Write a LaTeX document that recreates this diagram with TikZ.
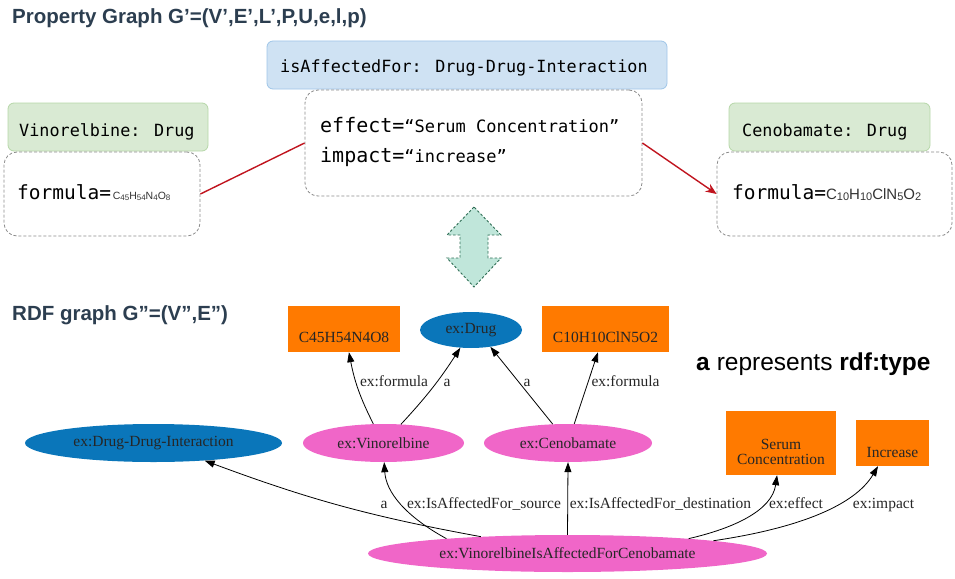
\documentclass[tikz,border=0pt]{standalone}
\usepackage{fontspec}
\setmainfont{Liberation Serif}
\newfontfamily\arialf{Liberation Sans}
\newfontfamily\monof{DejaVu Sans Mono}
\usetikzlibrary{shapes.geometric,arrows.meta}
\definecolor{titlec}{HTML}{2C3E50}
\definecolor{bluefill}{HTML}{CFE2F3}
\definecolor{blueline}{HTML}{9FC5E8}
\definecolor{greenfill}{HTML}{D9EAD3}
\definecolor{greenline}{HTML}{B6D7A8}
\definecolor{dashgray}{HTML}{8A8A8A}
\definecolor{redline}{HTML}{C0141E}
\definecolor{mintfill}{HTML}{C0E6DA}
\definecolor{mintline}{HTML}{2F6E55}
\definecolor{rdforange}{HTML}{FF7A00}
\definecolor{rdfblue}{HTML}{0A76BA}
\definecolor{rdfpink}{HTML}{F066C8}
\newcommand\fsz[1]{\fontsize{#1}{#1}\selectfont}
\newcommand\subd[2]{\raisebox{-0.8pt}{\fontsize{#1}{#1}\selectfont #2}}
\tikzset{
  pgtxt/.style={inner sep=0, anchor=base west, font=\monof\fsz{16.8}},
  bluebox/.style={draw=blueline, fill=bluefill, rounded corners=6pt, line width=0.8pt, minimum width=400pt, minimum height=48pt, inner sep=0},
  greenbox/.style={draw=greenline, fill=greenfill, rounded corners=6pt, line width=0.8pt, minimum height=48pt, inner sep=0},
  dashbox/.style={draw=dashgray, dash pattern=on 3pt off 2pt, line width=0.8pt, rounded corners=13pt, inner sep=0},
  pgedge/.style={draw=redline, line width=1.4pt},
  ovalnode/.style={ellipse, inner sep=0, font=\fsz{15.5}, text=black!85},
  boxnode/.style={rectangle, fill=rdforange, inner sep=0},
  boxtxt/.style={font=\fsz{15.5}, text=black!85, align=center, inner sep=0},
  elabel/.style={inner sep=0, anchor=base, font=\fsz{15.5}, text=black!85},
  rdfedge/.style={draw=black, line width=0.8pt, -{Triangle[length=10pt,width=7pt]}},
  titletxt/.style={inner sep=0, anchor=base west, text=titlec, font=\arialf\bfseries\fsz{20.5}}
}
\begin{document}
\begin{tikzpicture}[x=1pt,y=-1pt]
\useasboundingbox (0,0) rectangle (955,578);
% ---------- Property graph ----------
\node[titletxt] (t1) at (12,24) {Property Graph G’=(V’,E’,L’,P,U,e,l,p)};

\node[bluebox] (eb) at (467,65) {};
\node[pgtxt] (ebT) at (280,72.5) {isAffectedFor: Drug-Drug-Interaction};
\node[dashbox, minimum width=337pt, minimum height=106pt] (ep) at (473.5,143) {};
\node[inner sep=0, anchor=base west] (epA) at (320,132) {{\monof\fsz{20}effect=}{\monof\fsz{17}“Serum Concentration”}};
\node[inner sep=0, anchor=base west] (epB) at (320,162) {{\monof\fsz{20}impact=}{\monof\fsz{17}“increase”}};

\node[greenbox, minimum width=200pt] (vb) at (108,127) {};
\node[pgtxt] (vbT) at (19,136) {Vinorelbine: Drug};
\node[dashbox, minimum width=196pt, minimum height=84pt] (vp) at (102,194) {};
\node[inner sep=0, anchor=base west] (vpT) at (17,199.5) {{\monof\fsz{19.5}formula=}\,{\arialf\color{black!80}\fsz{10.5}C\subd{8}{45}H\subd{8}{54}N\subd{8}{4}O\subd{8}{8}}};

\node[greenbox, minimum width=201pt] (cb) at (829.5,127) {};
\node[pgtxt] (cbT) at (742,136) {Cenobamate: Drug};
\node[dashbox, minimum width=235pt, minimum height=84pt] (cp) at (834.5,194) {};
\node[inner sep=0, anchor=base west] (cpT) at (732,199.5) {{\monof\fsz{19.5}formula=}{\arialf\color{black!80}\fsz{15}C\subd{11}{10}H\subd{11}{10}ClN\subd{11}{5}O\subd{11}{2}}};

\draw[pgedge] (vp.east) -- (ep.west);
\draw[pgedge, -{Stealth[length=11pt,width=9pt]}] (ep.east) -- (cp.west);

% double arrow
\draw[fill=mintfill, draw=mintline, dash pattern=on 2.5pt off 2pt, line width=0.9pt]
  (474,207) -- (447,235) -- (460,235) -- (460,258) -- (447,258) -- (474,287)
  -- (501,258) -- (488,258) -- (488,235) -- (501,235) -- cycle;

% ---------- RDF graph ----------
\node[titletxt] (t2) at (12,320) {RDF graph G”=(V”,E”)};
\node[inner sep=0, anchor=base west, font=\arialf\fsz{24.5}] (leg) at (696,370) {\textbf{a} represents \textbf{rdf:type}};

\node[boxnode, minimum width=112pt, minimum height=46pt, label={[boxtxt, yshift=-8pt]center:C45H54N4O8}] (c45) at (344,329) {};
\node[ovalnode, fill=rdfblue, minimum width=102pt, minimum height=36pt] (drug) at (471,330) {ex:Drug};
\node[boxnode, minimum width=127pt, minimum height=46pt, label={[boxtxt, yshift=-8pt]center:C10H10ClN5O2}] (c10) at (605.5,329) {};

\node[ovalnode, fill=rdfblue, minimum width=257pt, minimum height=38pt] (ddi) at (153.5,443) {ex:Drug-Drug-Interaction};
\node[ovalnode, fill=rdfpink, minimum width=161pt, minimum height=38pt] (vin) at (383.5,443) {ex:Vinorelbine};
\node[ovalnode, fill=rdfpink, minimum width=168pt, minimum height=38pt] (cen) at (568,443) {ex:Cenobamate};
\node[boxnode, minimum width=110pt, minimum height=64pt, label={[boxtxt, yshift=-9pt]center:Serum\\Concentration}] (ser) at (781,443) {};
\node[boxnode, minimum width=73pt, minimum height=46pt, label={[boxtxt, yshift=-9pt]center:Increase}] (inc) at (892.5,443) {};
\node[ovalnode, fill=rdfpink, minimum width=399pt, minimum height=37pt] (main) at (567.5,553.5) {ex:VinorelbineIsAffectedForCenobamate};

% upper edges
\draw[rdfedge] (vin.118) to[bend left=8] (c45.-78);
\draw[rdfedge] (vin.47) to[bend right=5] (drug.-121);
\draw[rdfedge] (cen.129) -- (drug.-41);
\draw[rdfedge] (cen.72) -- (c10.-108);
\node[elabel] (l1) at (394,386) {ex:formula};
\node[elabel] (l2) at (447,386) {a};
\node[elabel] (l3) at (527,386) {a};
\node[elabel] (l4) at (625.5,386) {ex:formula};

% lower edges
\draw[rdfedge] (main.169) to[bend left=5] (ddi.-19.5);
\draw[rdfedge] (main.173) .. controls (405,516) and (386,492) .. (vin.-88);
\draw[rdfedge] (main.north) -- (cen.south);
\draw[rdfedge] (main.7.4) .. controls (735,528) and (772,510) .. (ser.-97);
\draw[rdfedge] (main.5.3) .. controls (800,528) and (855,505) .. (inc.-122);
\node[elabel] (l5) at (384,508) {a};
\node[elabel] (l6) at (484,508) {ex:IsAffectedFor\_source};
\node[elabel] (l7) at (660.5,508) {ex:IsAffectedFor\_destination};
\node[elabel] (l8) at (796,508) {ex:effect};
\node[elabel] (l9) at (883.5,508) {ex:impact};
\end{tikzpicture}
\end{document}
